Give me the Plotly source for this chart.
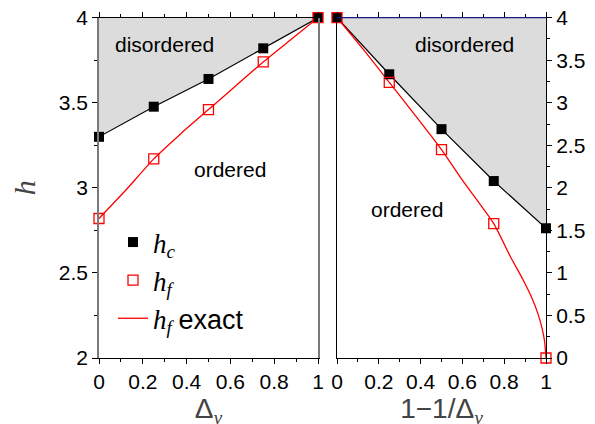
import plotly.graph_objects as go

# left panel: h vs Delta_y
delta = [0, 0.25, 0.5, 0.75, 1]
hc_left = [3.30, 3.477, 3.64, 3.82, 4.0]
hf_left = [2.82, 3.17, 3.46, 3.74, 4.0]
exact_left_x = [0, 0.125, 0.25, 0.375, 0.5, 0.625, 0.75, 0.875, 1]
exact_left_y = [2.82, 2.99, 3.17, 3.32, 3.46, 3.60, 3.74, 3.87, 4.0]

# right panel: h vs 1-1/Delta_y
u = [0, 0.25, 0.5, 0.75, 1]
hc_right = [4.0, 3.335, 2.69, 2.08, 1.525]
hf_right = [4.0, 3.24, 2.45, 1.58, 0.0]
exact_right_x = [0, 0.125, 0.25, 0.375, 0.5, 0.6, 0.75, 0.83, 0.89, 0.93, 0.96, 0.98, 0.993, 1.0]
exact_right_y = [4.0, 3.63, 3.24, 2.85, 2.45, 2.09, 1.58, 1.19, 0.92, 0.72, 0.53, 0.36, 0.2, 0.0]

top_left = [4.0] * len(delta)
top_right = [4.0] * len(u)

GRAY = "#dcdcdc"
SANS = "Liberation Sans"
SERIF = "Liberation Serif"
OFF = 8  # page body margin


def px_x(p):
    return (p - OFF) / 595


def px_y(p):
    return 1 - (p - OFF) / 424


fig = go.Figure()

# shaded "disordered" regions
fig.add_trace(go.Scatter(x=delta, y=top_left, mode="lines", line=dict(width=0),
                         showlegend=False, hoverinfo="skip", xaxis="x", yaxis="y"))
fig.add_trace(go.Scatter(x=delta, y=hc_left, mode="lines", line=dict(width=0),
                         fill="tonexty", fillcolor=GRAY, showlegend=False,
                         hoverinfo="skip", xaxis="x", yaxis="y"))
fig.add_trace(go.Scatter(x=u, y=top_right, mode="lines", line=dict(width=0),
                         showlegend=False, hoverinfo="skip", xaxis="x2", yaxis="y2"))
fig.add_trace(go.Scatter(x=u, y=hc_right, mode="lines", line=dict(width=0),
                         fill="tonexty", fillcolor=GRAY, showlegend=False,
                         hoverinfo="skip", xaxis="x2", yaxis="y2"))

# h_c connecting lines
fig.add_trace(go.Scatter(x=delta, y=hc_left, mode="lines", showlegend=False,
                         line=dict(color="black", width=1.2), xaxis="x", yaxis="y"))
fig.add_trace(go.Scatter(x=u, y=hc_right, mode="lines", showlegend=False,
                         line=dict(color="black", width=1.2), xaxis="x2", yaxis="y2"))

# exact curves
fig.add_trace(go.Scatter(x=exact_left_x, y=exact_left_y, mode="lines",
                         line=dict(color="red", width=1.3, shape="spline", smoothing=0.6),
                         name='<i>h</i><sub><i>f</i></sub> <span style="font-family:Liberation Sans">exact</span>',
                         xaxis="x", yaxis="y", legendrank=3))
fig.add_trace(go.Scatter(x=exact_right_x, y=exact_right_y, mode="lines",
                         line=dict(color="red", width=1.3, shape="spline", smoothing=0.6),
                         showlegend=False, xaxis="x2", yaxis="y2"))

# h_c markers
fig.add_trace(go.Scatter(x=delta, y=hc_left, mode="markers",
                         marker=dict(symbol="square", size=10, color="black"),
                         name="<i>h</i><sub><i>c</i></sub>", cliponaxis=False,
                         xaxis="x", yaxis="y", legendrank=1))
fig.add_trace(go.Scatter(x=u, y=hc_right, mode="markers",
                         marker=dict(symbol="square", size=10, color="black"),
                         showlegend=False, cliponaxis=False, xaxis="x2", yaxis="y2"))

# h_f markers
fig.add_trace(go.Scatter(x=delta, y=hf_left, mode="markers",
                         marker=dict(symbol="square-open", size=10, color="red",
                                     line=dict(width=1.3)),
                         name="<i>h</i><sub><i>f</i></sub>", cliponaxis=False,
                         xaxis="x", yaxis="y", legendrank=2))
fig.add_trace(go.Scatter(x=u, y=hf_right, mode="markers",
                         marker=dict(symbol="square-open", size=10, color="red",
                                     line=dict(width=1.3)),
                         showlegend=False, cliponaxis=False, xaxis="x2", yaxis="y2"))

tickfont = dict(family=SANS, size=21, color="black")
xcommon = dict(range=[0, 1], dtick=0.2, tick0=0, ticks="outside", ticklen=5,
               tickcolor="black", linecolor="black", linewidth=1, showline=True,
               mirror="ticks", showgrid=False, zeroline=False, tickfont=tickfont,
               ticklabeloverflow="allow",
               minor=dict(dtick=0.1, ticks="outside", ticklen=3, tickcolor="black"),
               automargin=False)
ydom = [px_y(358), px_y(17.7)]

fig.update_layout(
    width=595, height=424,
    margin=dict(l=0, r=0, t=0, b=0),
    paper_bgcolor="white", plot_bgcolor="white",
    template="none",
    xaxis=dict(xcommon, domain=[px_x(99), px_x(318)], anchor="y",
               title=dict(text='Δ<sub><span style="font-family:Liberation Serif"><i>y</i></span></sub>',
                          font=dict(family=SANS, size=28), standoff=1)),
    xaxis2=dict(xcommon, domain=[px_x(337), px_x(546)], anchor="y2",
                title=dict(text='1−1/Δ<sub><span style="font-family:Liberation Serif"><i>y</i></span></sub>',
                           font=dict(family=SANS, size=28), standoff=1)),
    yaxis=dict(domain=ydom, range=[2, 4], dtick=0.5,
               ticks="outside", ticklen=5, tickcolor="black", linecolor="#7a7a7a",
               linewidth=1.5, showline=True, mirror=True, showgrid=False,
               zeroline=False, tickfont=tickfont, anchor="x", automargin=False,
               ticklabeloverflow="allow",
               minor=dict(dtick=0.25, ticks="outside", ticklen=3, tickcolor="black"),
               title=dict(text="<i>h</i>", font=dict(family=SERIF, size=30), standoff=36)),
    yaxis2=dict(domain=ydom, range=[0, 4], dtick=0.5,
                side="right", ticks="outside", ticklen=5, tickcolor="black",
                linecolor="black", linewidth=1, showline=True, mirror=True,
                showgrid=False, zeroline=False, tickfont=tickfont, anchor="x2",
                automargin=False, ticklabeloverflow="allow",
                minor=dict(dtick=0.25, ticks="outside", ticklen=3, tickcolor="black")),
    legend=dict(x=px_x(113), y=px_y(218), xanchor="left", yanchor="top",
                bgcolor="rgba(0,0,0,0)", borderwidth=0, traceorder="normal",
                font=dict(family=SERIF, size=27, color="black"),
                tracegroupgap=0),
    showlegend=True,
)

# navy top edge of the right panel
fig.add_shape(type="line", xref="x2 domain", yref="y2 domain", x0=0, x1=1, y0=1, y1=1,
              line=dict(color="#1a1a80", width=1.2))

ann_font = dict(family=SANS, size=21, color="black")
fig.add_annotation(x=0.297, y=3.84, xref="x", yref="y", text="disordered",
                   showarrow=False, font=ann_font)
fig.add_annotation(x=0.598, y=3.107, xref="x", yref="y", text="ordered",
                   showarrow=False, font=ann_font)
fig.add_annotation(x=0.608, y=3.68, xref="x2", yref="y2", text="disordered",
                   showarrow=False, font=ann_font)
fig.add_annotation(x=0.335, y=1.74, xref="x2", yref="y2", text="ordered",
                   showarrow=False, font=ann_font)

fig.write_html("out.html")
